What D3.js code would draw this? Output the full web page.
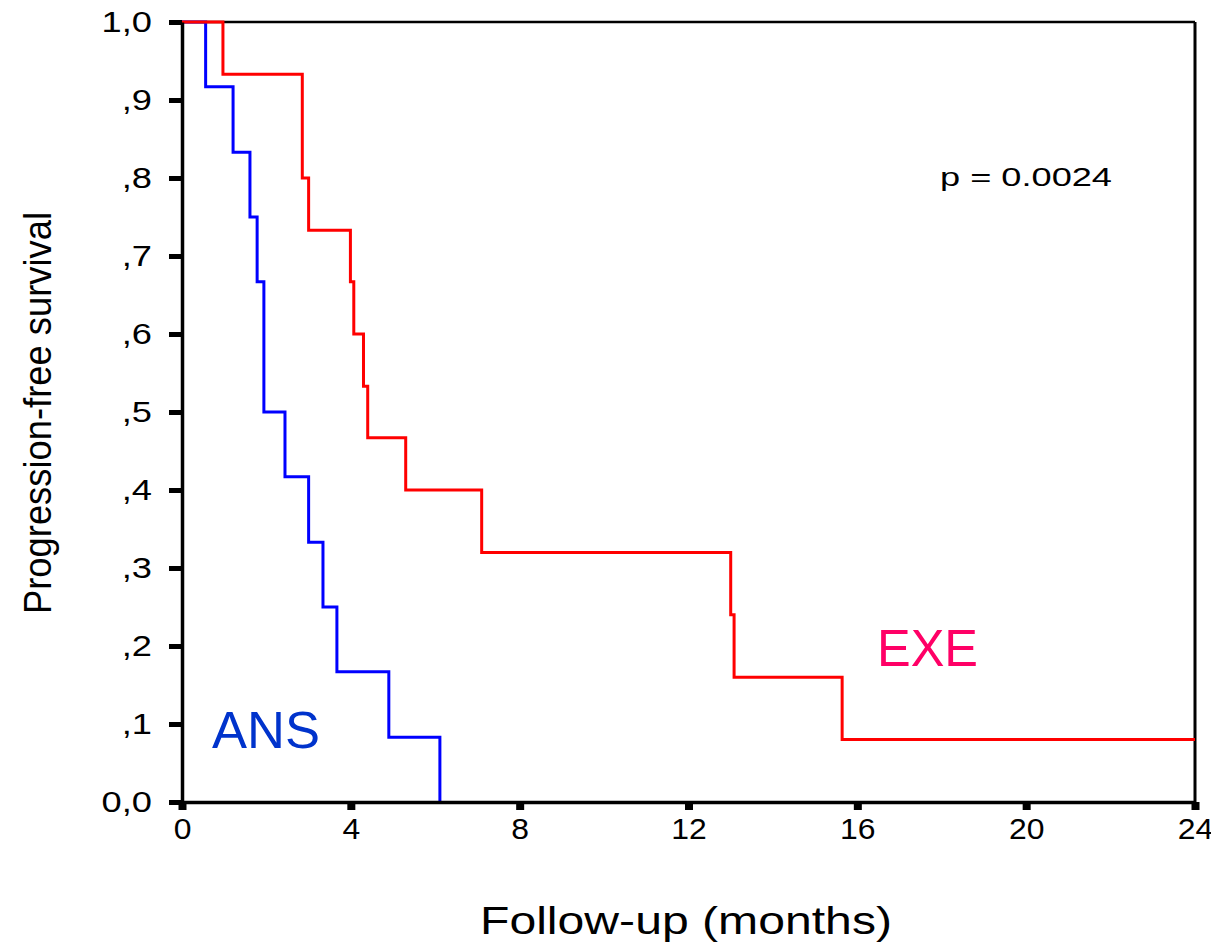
<!DOCTYPE html>
<html>
<head>
<meta charset="utf-8">
<script src="https://cdn.jsdelivr.net/npm/d3@7"></script>
<style>
  body { margin: 0; background: #fff; }
  text { font-family: "Liberation Sans", Arial, sans-serif; }
</style>
</head>
<body>
<svg id="chart" width="1211" height="942"></svg>
<script>
// Kaplan-Meier steps (event time in months, survival after event)
var ansTimes = [0.56, 1.21, 1.61, 1.78, 1.94, 2.44, 3.0, 3.34, 3.67, 4.9, 6.11];
var ansSurv  = [0.917, 0.833, 0.75, 0.667, 0.5, 0.417, 0.333, 0.25, 0.167, 0.083, 0];

var exeTimes = [0.97, 2.85, 3.0, 3.99, 4.07, 4.3, 4.4, 5.3, 7.1, 13.0, 13.08, 15.64];
var exeSurv  = [0.933, 0.8, 0.733, 0.667, 0.6, 0.533, 0.467, 0.4, 0.32, 0.24, 0.16, 0.08];
var exeEnd = 24;

var xTicks = [0, 4, 8, 12, 16, 20, 24];
var yTicks = [0, 0.1, 0.2, 0.3, 0.4, 0.5, 0.6, 0.7, 0.8, 0.9, 1.0];
var yTickLabels = ["0,0", ",1", ",2", ",3", ",4", ",5", ",6", ",7", ",8", ",9", "1,0"];

var svg = d3.select("#chart");

var x = d3.scaleLinear().domain([0, 24]).range([182, 1195]);
var y = d3.scaleLinear().domain([0, 1]).range([802, 22]);

// frame: top and right
svg.append("line").attr("x1", x(0)).attr("x2", x(24)).attr("y1", y(1)).attr("y2", y(1))
  .attr("stroke", "#000").attr("stroke-width", 2.5);
svg.append("line").attr("x1", x(24)).attr("x2", x(24)).attr("y1", y(1)).attr("y2", y(0))
  .attr("stroke", "#000").attr("stroke-width", 3);

// build step points
function steps(times, surv, end) {
  var pts = [[0, 1]];
  times.forEach(function(t, i) { pts.push([t, surv[i]]); });
  if (end != null) pts.push([end, surv[surv.length - 1]]);
  return pts;
}

var line = d3.line()
  .x(function(d) { return x(d[0]); })
  .y(function(d) { return y(d[1]); })
  .curve(d3.curveStepAfter);

svg.append("path").datum(steps(ansTimes, ansSurv, null))
  .attr("d", line).attr("fill", "none").attr("stroke", "#0000ff").attr("stroke-width", 3);
svg.append("path").datum(steps(exeTimes, exeSurv, exeEnd))
  .attr("d", line).attr("fill", "none").attr("stroke", "#ff0000").attr("stroke-width", 3);

// widen tick labels a bit, the original font is broad
function widen(sel, f) {
  sel.each(function() {
    var w = this.getComputedTextLength();
    d3.select(this).attr("textLength", w * f).attr("lengthAdjust", "spacingAndGlyphs");
  });
}

// y axis
var yAxis = svg.append("g").attr("transform", "translate(" + x(0) + ",0)")
  .call(d3.axisLeft(y).tickValues(yTicks).tickSize(0).tickPadding(30)
    .tickFormat(function(d, i) { return yTickLabels[i]; }));
yAxis.select(".domain").attr("stroke", "#000").attr("stroke-width", 3.5);
yAxis.selectAll(".tick text").attr("font-size", 29).attr("fill", "#000")
  .attr("font-family", "Liberation Sans, Arial, sans-serif");
widen(yAxis.selectAll(".tick text"), 1.25);
yAxis.selectAll(".tick").append("rect")
  .attr("x", -13).attr("y", -2.5).attr("width", 13).attr("height", 5).attr("fill", "#000");

// x axis
var xAxis = svg.append("g").attr("transform", "translate(0," + y(0) + ")")
  .call(d3.axisBottom(x).tickValues(xTicks).tickSize(0).tickPadding(16));
xAxis.select(".domain").attr("stroke", "#000").attr("stroke-width", 3.5);
xAxis.selectAll(".tick text").attr("font-size", 29).attr("fill", "#000")
  .attr("font-family", "Liberation Sans, Arial, sans-serif");
widen(xAxis.selectAll(".tick text"), 1.1);
xAxis.selectAll(".tick").append("rect")
  .attr("x", -4).attr("y", 0).attr("width", 8).attr("height", 8).attr("fill", "#000");

// axis titles
svg.append("text").attr("x", 686).attr("y", 934).attr("text-anchor", "middle")
  .attr("font-size", 38).attr("textLength", 412).attr("lengthAdjust", "spacingAndGlyphs")
  .text("Follow-up (months)");
svg.append("text").attr("transform", "translate(51,413) rotate(-90)").attr("text-anchor", "middle")
  .attr("font-size", 38).attr("textLength", 402).attr("lengthAdjust", "spacingAndGlyphs")
  .text("Progression-free survival");

// annotations
svg.append("text").attr("x", 940).attr("y", 186).attr("font-size", 26)
  .attr("textLength", 172).attr("lengthAdjust", "spacingAndGlyphs").text("p = 0.0024");
svg.append("text").attr("x", 212).attr("y", 748).attr("font-size", 52).attr("fill", "#0033cc")
  .attr("textLength", 108).attr("lengthAdjust", "spacingAndGlyphs").text("ANS");
svg.append("text").attr("x", 877).attr("y", 666).attr("font-size", 52).attr("fill", "#ff0066")
  .attr("textLength", 101).attr("lengthAdjust", "spacingAndGlyphs").text("EXE");
</script>
</body>
</html>
